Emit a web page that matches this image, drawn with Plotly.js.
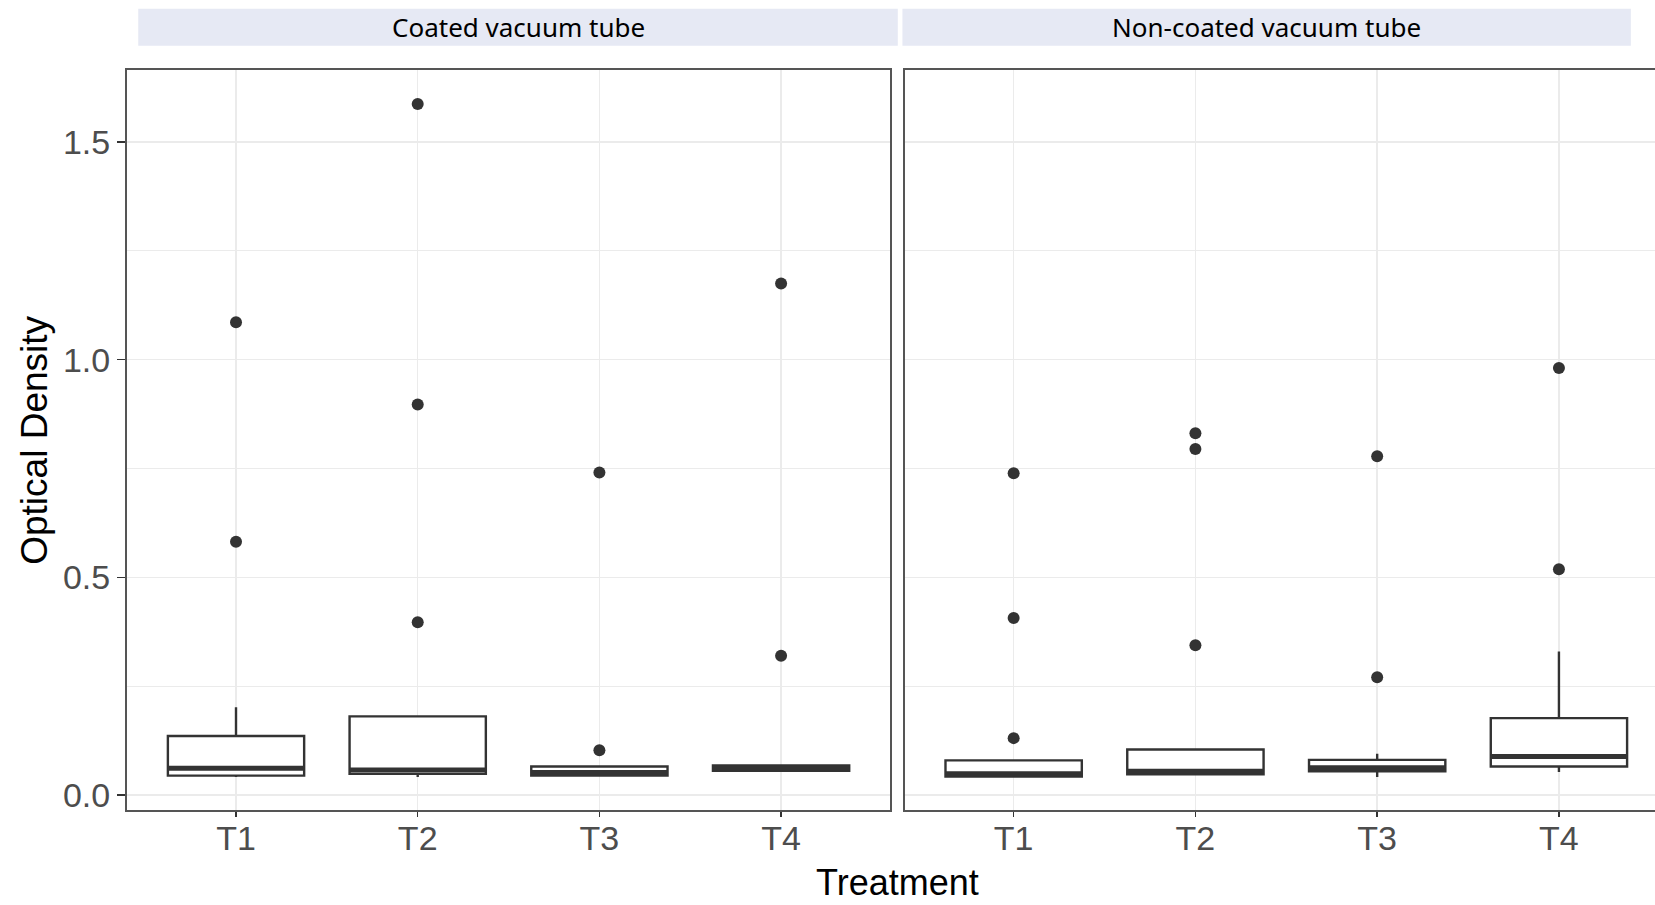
<!DOCTYPE html>
<html>
<head>
<meta charset="utf-8">
<script src="https://cdn.plot.ly/plotly-3.0.1.min.js"></script>
<style>
html, body { margin: 0; padding: 0; overflow: hidden; background: #ffffff; }
#chart { width: 1680px; height: 905px; }
</style>
</head>
<body>
<div id="chart"></div>
<script>
// ---- Data ----
const categories = ['T1', 'T2', 'T3', 'T4'];

const coatedQ1 = [0.045, 0.049, 0.045, 0.056];
const coatedMedian = [0.062, 0.058, 0.052, 0.062];
const coatedQ3 = [0.136, 0.181, 0.066, 0.068];
const coatedLower = [0.042, 0.042, 0.043, 0.055];
const coatedUpper = [0.202, 0.181, 0.066, 0.068];
const coatedOutX = ['T1', 'T1', 'T2', 'T2', 'T2', 'T3', 'T3', 'T4', 'T4'];
const coatedOutY = [1.086, 0.582, 1.587, 0.897, 0.397, 0.741, 0.103, 1.175, 0.320];

const nonQ1 = [0.043, 0.048, 0.055, 0.066];
const nonMedian = [0.049, 0.055, 0.063, 0.089];
const nonQ3 = [0.080, 0.105, 0.081, 0.177];
const nonLower = [0.043, 0.045, 0.042, 0.053];
const nonUpper = [0.080, 0.105, 0.095, 0.330];
const nonOutX = ['T1', 'T1', 'T1', 'T2', 'T2', 'T2', 'T3', 'T3', 'T4', 'T4'];
const nonOutY = [0.739, 0.407, 0.131, 0.831, 0.795, 0.344, 0.778, 0.271, 0.981, 0.519];

const panelTitles = ['Coated vacuum tube', 'Non-coated vacuum tube'];
const xTitle = 'Treatment';
const yTitle = 'Optical Density';

// ---- Styling ----
const dark = '#333333';
const gridCol = '#EBEBEB';
const tickFont = { family: 'Liberation Sans, Arial, sans-serif', size: 34, color: '#4D4D4D' };

function boxTrace(xa, ya, q1, med, q3, lo, hi) {
  return {
    type: 'box', xaxis: xa, yaxis: ya, x: categories,
    q1: q1, median: med, q3: q3, lowerfence: lo, upperfence: hi,
    boxpoints: false, width: 0.75, whiskerwidth: 0,
    fillcolor: '#ffffff', line: { color: dark, width: 2.4 },
    hoverinfo: 'skip', showlegend: false
  };
}
function medianTrace(xa, ya, med) {
  return {
    type: 'box', xaxis: xa, yaxis: ya, x: categories,
    q1: med, median: med, q3: med, lowerfence: med, upperfence: med,
    boxpoints: false, width: 0.75, whiskerwidth: 0,
    fillcolor: 'rgba(0,0,0,0)', line: { color: dark, width: 5 },
    hoverinfo: 'skip', showlegend: false
  };
}
function outTrace(xa, ya, xs, ys) {
  return {
    type: 'scatter', mode: 'markers', xaxis: xa, yaxis: ya, x: xs, y: ys,
    marker: { color: dark, size: 12 }, hoverinfo: 'skip', showlegend: false, cliponaxis: false
  };
}

const traces = [
  boxTrace('x', 'y', coatedQ1, coatedMedian, coatedQ3, coatedLower, coatedUpper),
  medianTrace('x', 'y', coatedMedian),
  outTrace('x', 'y', coatedOutX, coatedOutY),
  boxTrace('x2', 'y2', nonQ1, nonMedian, nonQ3, nonLower, nonUpper),
  medianTrace('x2', 'y2', nonMedian),
  outTrace('x2', 'y2', nonOutX, nonOutY)
];

const leftDom = [0, 0.4952];
const rightDom = [0.5046, 1];

function xAxis(dom, anchor) {
  return {
    domain: dom, anchor: anchor, type: 'category', categoryorder: 'array', categoryarray: categories,
    range: [-0.6, 3.6], showgrid: true, gridcolor: gridCol, gridwidth: 1.5,
    showline: true, mirror: true, linecolor: '#555555', linewidth: 2,
    ticks: 'outside', ticklen: 5, tickwidth: 1.5, tickcolor: dark, ticklabelstandoff: -8,
    tickfont: tickFont, zeroline: false, fixedrange: true
  };
}
function yAxis(anchor, labels) {
  return {
    anchor: anchor, range: [-0.034, 1.665], tickvals: [0, 0.5, 1.0, 1.5],
    ticktext: ['0.0', '0.5', '1.0', '1.5'],
    showticklabels: labels, ticks: labels ? 'outside' : '', ticklen: 8, tickwidth: 1.5, tickcolor: dark,
    showgrid: true, gridcolor: gridCol, gridwidth: 1.5,
    minor: { tickvals: [0.25, 0.75, 1.25], showgrid: true, gridcolor: gridCol, gridwidth: 1, ticks: '' },
    showline: true, mirror: true, linecolor: '#555555', linewidth: 2,
    tickfont: tickFont, zeroline: false, fixedrange: true
  };
}

const stripFont = { family: 'Noto Sans, Open Sans, sans-serif', size: 26, color: '#000000' };

const layout = {
  width: 1680, height: 905,
  margin: { l: 127, r: 12, t: 70, b: 95, pad: 0 },
  paper_bgcolor: '#ffffff', plot_bgcolor: '#ffffff',
  showlegend: false, boxmode: 'overlay',
  xaxis: xAxis(leftDom, 'y'),
  xaxis2: xAxis(rightDom, 'y2'),
  yaxis: yAxis('x', true),
  yaxis2: Object.assign(yAxis('x2', false), { matches: 'y' }),
  shapes: [
    { type: 'rect', xref: 'paper', yref: 'paper', x0: 0.0073, x1: 0.5002, y0: 1.0329, y1: 1.0829,
      fillcolor: '#E6E9F4', line: { width: 0 }, layer: 'below' },
    { type: 'rect', xref: 'paper', yref: 'paper', x0: 0.5032, x1: 0.9759, y0: 1.0329, y1: 1.0829,
      fillcolor: '#E6E9F4', line: { width: 0 }, layer: 'below' }
  ],
  annotations: [
    { text: panelTitles[0], xref: 'paper', yref: 'paper', x: 0.25375, y: 1.0579,
      xanchor: 'center', yanchor: 'middle', showarrow: false, font: stripFont },
    { text: panelTitles[1], xref: 'paper', yref: 'paper', x: 0.73955, y: 1.0579,
      xanchor: 'center', yanchor: 'middle', showarrow: false, font: stripFont },
    { text: xTitle, xref: 'paper', yref: 'paper', x: 0.4997, y: -0.0984,
      xanchor: 'center', yanchor: 'middle', showarrow: false,
      font: { family: 'Liberation Sans, Arial, sans-serif', size: 36, color: '#000000' } },
    { text: yTitle, xref: 'paper', yref: 'paper', x: -0.0605, y: 0.5, textangle: -90,
      xanchor: 'center', yanchor: 'middle', showarrow: false,
      font: { family: 'Liberation Sans, Arial, sans-serif', size: 37, color: '#000000' } }
  ]
};

Plotly.newPlot('chart', traces, layout, { displayModeBar: false, staticPlot: true });
</script>
</body>
</html>
